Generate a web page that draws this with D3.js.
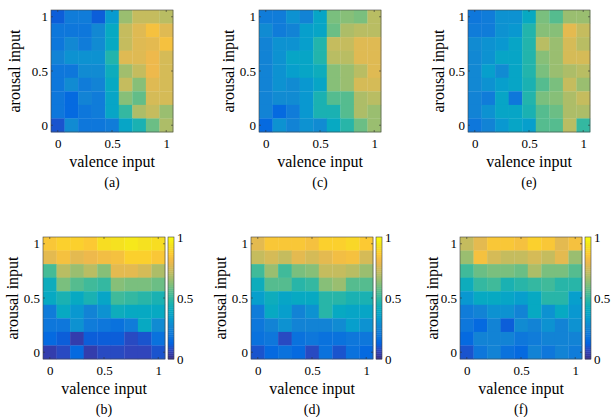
<!DOCTYPE html>
<html>
<head>
<meta charset="utf-8">
<script src="https://cdn.jsdelivr.net/npm/d3@7"></script>
<style>
  html, body { margin: 0; padding: 0; background: #fff; }
  svg { display: block; }
  svg text { font-family: "Liberation Serif", "Tinos", "Times New Roman", "DejaVu Serif", serif !important; fill: #000; }
</style>
</head>
<body>
<div id="chart"></div>
<script>
// input grid (valence / arousal), 9 levels from 0 to 1
const inputLevels = [0, 0.125, 0.25, 0.375, 0.5, 0.625, 0.75, 0.875, 1];
const tickValues = [0, 0.5, 1];
const panelLabels = ["(a)", "(c)", "(e)", "(b)", "(d)", "(f)"];

// rows go from arousal = 1 (top) down to arousal = 0, columns valence 0 -> 1
const gridA = [
  [0.12, 0.22, 0.22, 0.12, 0.33, 0.65, 0.72, 0.72, 0.70],
  [0.20, 0.20, 0.20, 0.27, 0.40, 0.72, 0.77, 0.83, 0.77],
  [0.20, 0.27, 0.22, 0.28, 0.40, 0.72, 0.77, 0.78, 0.83],
  [0.25, 0.30, 0.30, 0.30, 0.47, 0.77, 0.77, 0.80, 0.75],
  [0.20, 0.20, 0.28, 0.28, 0.42, 0.66, 0.72, 0.80, 0.75],
  [0.20, 0.28, 0.22, 0.25, 0.40, 0.72, 0.62, 0.77, 0.75],
  [0.20, 0.15, 0.25, 0.22, 0.38, 0.62, 0.57, 0.75, 0.75],
  [0.20, 0.15, 0.20, 0.22, 0.38, 0.50, 0.68, 0.72, 0.65],
  [0.10, 0.28, 0.20, 0.20, 0.22, 0.38, 0.45, 0.58, 0.68]
];
const gridC = [
  [0.22, 0.22, 0.30, 0.25, 0.38, 0.60, 0.62, 0.60, 0.70],
  [0.28, 0.22, 0.25, 0.35, 0.38, 0.58, 0.68, 0.70, 0.70],
  [0.25, 0.30, 0.30, 0.35, 0.47, 0.72, 0.72, 0.77, 0.77],
  [0.25, 0.30, 0.38, 0.38, 0.47, 0.70, 0.70, 0.77, 0.77],
  [0.25, 0.30, 0.35, 0.38, 0.42, 0.62, 0.65, 0.70, 0.77],
  [0.25, 0.30, 0.28, 0.32, 0.38, 0.62, 0.65, 0.75, 0.75],
  [0.25, 0.28, 0.28, 0.32, 0.45, 0.55, 0.55, 0.68, 0.70],
  [0.25, 0.15, 0.22, 0.32, 0.45, 0.45, 0.55, 0.68, 0.65],
  [0.15, 0.30, 0.25, 0.30, 0.28, 0.40, 0.48, 0.58, 0.65]
];
const gridE = [
  [0.20, 0.22, 0.30, 0.30, 0.40, 0.60, 0.55, 0.65, 0.65],
  [0.22, 0.22, 0.30, 0.32, 0.47, 0.62, 0.62, 0.78, 0.72],
  [0.28, 0.30, 0.32, 0.38, 0.47, 0.70, 0.65, 0.75, 0.70],
  [0.27, 0.30, 0.38, 0.38, 0.47, 0.62, 0.65, 0.75, 0.75],
  [0.27, 0.35, 0.28, 0.38, 0.47, 0.60, 0.65, 0.68, 0.70],
  [0.27, 0.30, 0.35, 0.38, 0.45, 0.55, 0.60, 0.72, 0.65],
  [0.25, 0.22, 0.38, 0.20, 0.47, 0.60, 0.62, 0.68, 0.72],
  [0.25, 0.30, 0.38, 0.38, 0.45, 0.55, 0.58, 0.68, 0.68],
  [0.20, 0.25, 0.32, 0.38, 0.35, 0.55, 0.55, 0.70, 0.50]
];
const gridB = [
  [0.85, 0.88, 0.88, 0.86, 0.92, 0.93, 0.95, 0.93, 0.92],
  [0.78, 0.83, 0.78, 0.80, 0.82, 0.83, 0.88, 0.88, 0.85],
  [0.53, 0.70, 0.65, 0.70, 0.62, 0.78, 0.78, 0.75, 0.68],
  [0.42, 0.60, 0.55, 0.52, 0.50, 0.62, 0.60, 0.60, 0.58],
  [0.40, 0.45, 0.40, 0.45, 0.38, 0.52, 0.50, 0.48, 0.45],
  [0.22, 0.40, 0.32, 0.25, 0.30, 0.42, 0.40, 0.40, 0.40],
  [0.20, 0.20, 0.30, 0.22, 0.20, 0.18, 0.22, 0.40, 0.28],
  [0.15, 0.12, 0.05, 0.12, 0.12, 0.12, 0.08, 0.10, 0.18],
  [0.05, 0.08, 0.15, 0.05, 0.08, 0.08, 0.07, 0.07, 0.10]
];
const gridD = [
  [0.78, 0.85, 0.85, 0.85, 0.83, 0.88, 0.88, 0.90, 0.86],
  [0.72, 0.75, 0.72, 0.78, 0.75, 0.78, 0.82, 0.83, 0.75],
  [0.52, 0.65, 0.52, 0.60, 0.62, 0.72, 0.72, 0.70, 0.65],
  [0.42, 0.55, 0.55, 0.48, 0.50, 0.62, 0.65, 0.55, 0.55],
  [0.35, 0.42, 0.38, 0.40, 0.40, 0.48, 0.48, 0.45, 0.45],
  [0.22, 0.40, 0.35, 0.25, 0.30, 0.48, 0.40, 0.38, 0.38],
  [0.20, 0.25, 0.30, 0.25, 0.25, 0.25, 0.28, 0.35, 0.30],
  [0.18, 0.20, 0.08, 0.18, 0.20, 0.18, 0.18, 0.20, 0.20],
  [0.10, 0.15, 0.18, 0.15, 0.08, 0.18, 0.10, 0.18, 0.15]
];
const gridF = [
  [0.72, 0.78, 0.85, 0.85, 0.83, 0.88, 0.85, 0.78, 0.83],
  [0.65, 0.83, 0.75, 0.72, 0.72, 0.75, 0.72, 0.78, 0.65],
  [0.52, 0.58, 0.60, 0.60, 0.58, 0.68, 0.60, 0.60, 0.55],
  [0.42, 0.50, 0.52, 0.45, 0.48, 0.50, 0.52, 0.48, 0.48],
  [0.32, 0.40, 0.40, 0.38, 0.35, 0.40, 0.48, 0.48, 0.35],
  [0.22, 0.25, 0.30, 0.30, 0.25, 0.40, 0.30, 0.40, 0.32],
  [0.20, 0.15, 0.25, 0.12, 0.28, 0.25, 0.30, 0.25, 0.30],
  [0.15, 0.25, 0.25, 0.25, 0.20, 0.22, 0.25, 0.25, 0.25],
  [0.10, 0.20, 0.25, 0.18, 0.15, 0.25, 0.20, 0.25, 0.22]
];

// parula-like colormap samples
const parula = [
  "#352a87", "#3243ba", "#0265e1", "#0e77db", "#1387d3", "#079ccf",
  "#07a9c2", "#20b4ad", "#48bb95", "#7abf7e", "#a5be6b", "#cdbb5b",
  "#eeb94c", "#fdcb30", "#f5e21f", "#f9fb0e"
];
const color = d3.scaleSequential(d3.piecewise(d3.interpolateRgb, parula)).domain([0, 1]);

const width = 614, height = 417;
const size = 122;
const serif = '"Liberation Serif", "Tinos", "Times New Roman", "DejaVu Serif", serif';
const panels = [
  { grid: gridA, label: panelLabels[0], x: 51,  y: 10,  cbar: false, ylab: 37 },
  { grid: gridC, label: panelLabels[1], x: 259, y: 10,  cbar: false, ylab: 31 },
  { grid: gridE, label: panelLabels[2], x: 468, y: 10,  cbar: false, ylab: 30 },
  { grid: gridB, label: panelLabels[3], x: 43,  y: 237, cbar: true,  ylab: 31 },
  { grid: gridD, label: panelLabels[4], x: 251, y: 237, cbar: true,  ylab: 31 },
  { grid: gridF, label: panelLabels[5], x: 460, y: 237, cbar: true,  ylab: 28 }
];

const svg = d3.select("#chart").append("svg")
  .attr("width", width)
  .attr("height", height)
  .attr("font-family", serif);

const half = (inputLevels[1] - inputLevels[0]) / 2;
const x = d3.scaleLinear().domain([inputLevels[0] - half, inputLevels[8] + half]).range([0, size]);
const y = d3.scaleLinear().domain([inputLevels[0] - half, inputLevels[8] + half]).range([size, 0]);
const fmt = d => d3.format("")(d);

function styleAxis(a) {
  a.attr("font-family", serif).attr("font-size", 13);
  a.select(".domain").remove();
  a.selectAll("text").attr("fill", "#000");
}

panels.forEach(p => {
  const g = svg.append("g").attr("transform", `translate(${p.x},${p.y})`);

  const cells = [];
  p.grid.forEach((row, r) => row.forEach((v, c) => {
    cells.push({ valence: inputLevels[c], arousal: inputLevels[8 - r], value: v });
  }));

  g.selectAll("rect.cell").data(cells).join("rect")
    .attr("class", "cell")
    .attr("x", d => x(d.valence - half))
    .attr("y", d => y(d.arousal + half))
    .attr("width", x(half * 2) - x(0) + 0.3)
    .attr("height", y(0) - y(half * 2) + 0.3)
    .attr("fill", d => color(d.value));

  // box + inward ticks
  g.append("rect")
    .attr("width", size).attr("height", size)
    .attr("fill", "none").attr("stroke", "#444").attr("stroke-width", 0.6);
  tickValues.forEach(t => {
    g.append("line").attr("x1", x(t)).attr("x2", x(t)).attr("y1", size).attr("y2", size - 2)
      .attr("stroke", "#333").attr("stroke-width", 0.6);
    g.append("line").attr("x1", x(t)).attr("x2", x(t)).attr("y1", 0).attr("y2", 2)
      .attr("stroke", "#333").attr("stroke-width", 0.6);
    g.append("line").attr("y1", y(t)).attr("y2", y(t)).attr("x1", 0).attr("x2", 2)
      .attr("stroke", "#333").attr("stroke-width", 0.6);
    g.append("line").attr("y1", y(t)).attr("y2", y(t)).attr("x1", size).attr("x2", size - 2)
      .attr("stroke", "#333").attr("stroke-width", 0.6);
  });

  const xAxis = g.append("g").attr("transform", `translate(0,${size})`)
    .call(d3.axisBottom(x).tickValues(tickValues).tickFormat(fmt).tickSize(0).tickPadding(7));
  const yAxis = g.append("g")
    .call(d3.axisLeft(y).tickValues(tickValues).tickFormat(fmt).tickSize(0).tickPadding(3));
  styleAxis(xAxis);
  styleAxis(yAxis);

  g.append("text")
    .attr("x", size / 2).attr("y", size + 35)
    .attr("text-anchor", "middle")
    .attr("font-size", 16)
    .text("valence input");

  g.append("text")
    .attr("transform", `translate(${-p.ylab},${size / 2}) rotate(-90)`)
    .attr("text-anchor", "middle")
    .attr("dy", "0.35em")
    .attr("font-size", 16)
    .text("arousal input");

  g.append("text")
    .attr("x", size / 2).attr("y", size + 55)
    .attr("text-anchor", "middle")
    .attr("font-size", 14)
    .text(p.label);

  if (p.cbar) {
    const cb = g.append("g").attr("transform", `translate(${size + 3},0)`);
    const cy = d3.scaleLinear().domain([0, 1]).range([size, 0]);
    const steps = d3.range(0, 64);
    cb.selectAll("rect").data(steps).join("rect")
      .attr("x", 0).attr("width", 6)
      .attr("y", i => cy((i + 1) / 64))
      .attr("height", size / 64 + 0.4)
      .attr("fill", i => color((i + 0.5) / 64));
    cb.append("rect").attr("width", 6).attr("height", size)
      .attr("fill", "none").attr("stroke", "#444").attr("stroke-width", 0.6);
    const cAxis = cb.append("g").attr("transform", "translate(6,0)")
      .call(d3.axisRight(cy).tickValues(tickValues).tickFormat(fmt).tickSize(0).tickPadding(3));
    styleAxis(cAxis);
  }
});
</script>
</body>
</html>
